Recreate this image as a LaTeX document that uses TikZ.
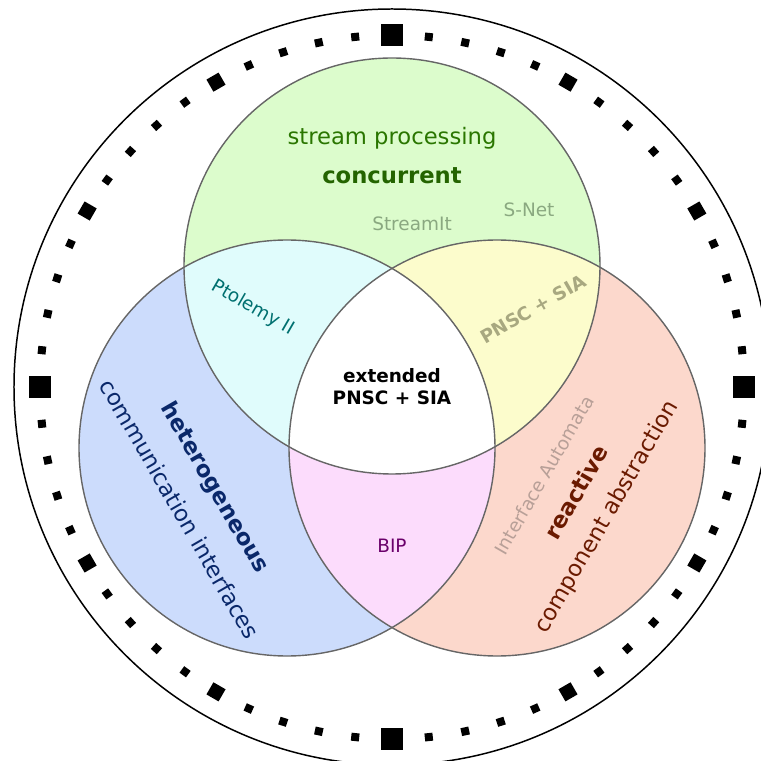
\documentclass[tikz,border=0pt]{standalone}
\usepackage{fontspec}
\setmainfont{DejaVu Sans}
\usetikzlibrary{calc}

\definecolor{streamfill}{RGB}{220,252,204}
\definecolor{commfill}{RGB}{204,220,252}
\definecolor{compfill}{RGB}{252,216,204}
\definecolor{scfill}{RGB}{224,252,252}
\definecolor{srfill}{RGB}{252,252,204}
\definecolor{crfill}{RGB}{252,220,252}
\definecolor{vennline}{RGB}{102,102,102}
\definecolor{streamtext}{RGB}{42,118,0}
\definecolor{streamtool}{RGB}{138,168,128}
\definecolor{commtext}{RGB}{10,40,106}
\definecolor{comptext}{RGB}{106,26,0}
\definecolor{comptool}{RGB}{184,160,152}
\definecolor{sctext}{RGB}{0,112,112}
\definecolor{srtext}{RGB}{168,168,128}
\definecolor{crtext}{RGB}{106,0,106}

\tikzset{venn/.style={draw=vennline, line width=0.8pt}}
\tikzset{mainlab/.style={inner sep=0pt, font=\fontsize{12.9}{15}\selectfont}}
\tikzset{boldlab/.style={inner sep=0pt, font=\fontsize{12.9}{15}\selectfont\bfseries}}
\tikzset{toollab/.style={inner sep=0pt, font=\fontsize{10.5}{12.6}\selectfont}}

\begin{document}
\begin{tikzpicture}
    \newcommand\rad{4.16}
    \newcommand\ring{7.04}

    \useasboundingbox (-7.84,-7.48) rectangle (7.38,7.74);

    \draw[line width=0.85pt] (0,0) circle (7.56);

    % clock marks
    \foreach \a in {0,6,...,354}{
        \pgfmathsetmacro\sz{mod(\a,90)==0 ? 0.44 : (mod(\a,30)==0 ? 0.28 : 0.16)}
        \fill[rotate=\a] (\ring-\sz/2,-\sz/2) rectangle (\ring+\sz/2,\sz/2);
    }

    \coordinate (cS) at (0,2.42);
    \coordinate (cC) at (-2.1,-1.22);
    \coordinate (cR) at (2.1,-1.22);

    \fill[streamfill] (cS) circle (\rad);
    \fill[commfill] (cC) circle (\rad);
    \fill[compfill] (cR) circle (\rad);
    \begin{scope}
        \clip (cS) circle (\rad);
        \fill[scfill] (cC) circle (\rad);
        \fill[srfill] (cR) circle (\rad);
    \end{scope}
    \begin{scope}
        \clip (cC) circle (\rad);
        \fill[crfill] (cR) circle (\rad);
        \clip (cR) circle (\rad);
        \fill[white] (cS) circle (\rad);
    \end{scope}
    \draw[venn] (cS) circle (\rad);
    \draw[venn] (cC) circle (\rad);
    \draw[venn] (cR) circle (\rad);

    \node[mainlab, text=streamtext] (labS) at (0, 4.98){stream processing};
    \node[boldlab, text=streamtext!85!black] (annS) at (0, 4.22){concurrent};
    \node[toollab, text=streamtool] (streamit) at (0.4, 3.26){StreamIt};
    \node[toollab, text=streamtool] (snet) at (2.74, 3.54){S-Net};

    \node[toollab, text=sctext, rotate=-30] (ptolemy) at (-2.78, 1.58){Ptolemy II};
    \node[toollab, text=srtext, font=\fontsize{10.5}{12.6}\selectfont\bfseries, rotate=30] (pnsc) at (2.82, 1.56){PNSC + SIA};
    \node[toollab, text=crtext] (bip) at (0, -3.18){BIP};
    \node[toollab, font=\fontsize{10.5}{12.6}\selectfont\bfseries] (ext) at (0, 0.22){extended};
    \node[toollab, font=\fontsize{10.5}{12.6}\selectfont\bfseries] (extb) at (0, -0.22){PNSC + SIA};

    \node[boldlab, text=commtext, rotate=-60] (annC) at (-3.56, -2.02){heterogeneous};
    \node[mainlab, text=commtext, rotate=-60] (labC) at (-4.24, -2.44){communication interfaces};

    \node[toollab, text=comptool, rotate=60] (ia) at (3.04, -1.76){Interface Automata};
    \node[boldlab, text=comptext, rotate=60] (annR) at (3.68, -2.1){reactive};
    \node[mainlab, text=comptext, rotate=60] (labR) at (4.3, -2.6){component abstraction};
\end{tikzpicture}
\end{document}
